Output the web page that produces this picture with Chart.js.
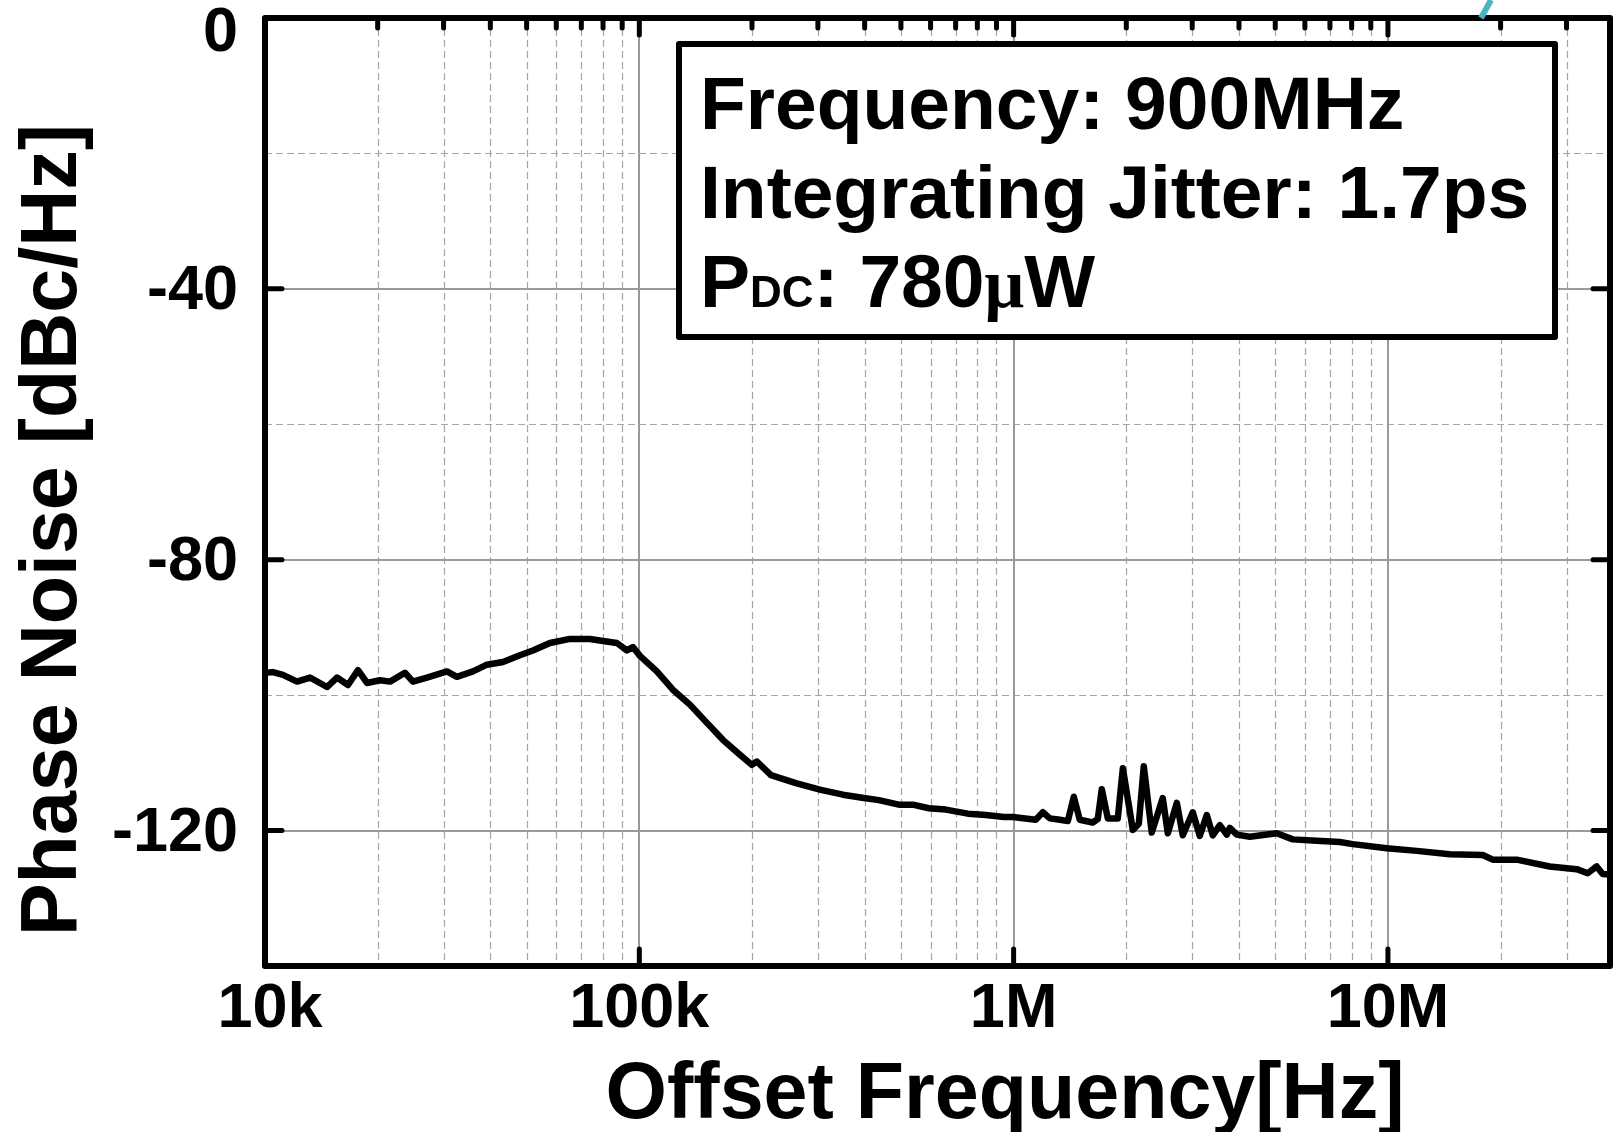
<!DOCTYPE html>
<html>
<head>
<meta charset="utf-8">
<script src="https://cdn.jsdelivr.net/npm/chart.js@4.4.0/dist/chart.umd.min.js"></script>
<style>
  html, body { margin: 0; padding: 0; background: #fff; }
  canvas { display: block; }
</style>
</head>
<body>
<canvas id="pn" width="1615" height="1132"></canvas>
<script>
const freqHz = [10000, 10500, 11170, 12180, 13190, 14640, 15570, 16660, 17720, 18730,
  20280, 21580, 23650, 24850, 27080, 30630, 32560, 35940, 39160, 43220,
  47980, 51960, 57700, 65250, 73820, 79960, 87130, 92660, 96140, 100400,
  111400, 122900, 136500, 151600, 167200, 185700, 199800, 206100, 224700, 262000,
  305500, 349900, 398000, 436500, 496700, 541400, 593600, 659100, 754500, 843000,
  941500, 995200, 1146000, 1197000, 1250000, 1329000, 1396000, 1448000, 1502000, 1627000,
  1678000, 1720000, 1785000, 1898000, 1958000, 2082000, 2160000, 2227000, 2339000, 2503000,
  2582000, 2729000, 2831000, 3010000, 3143000, 3281000, 3405000, 3555000, 3711000, 3781000,
  3947000, 4275000, 5047000, 5568000, 6452000, 7433000, 8054000, 9927000, 11940000, 14630000,
  17920000, 19050000, 22080000, 27050000, 31940000, 34180000, 36120000, 37470000, 39130000];

const phaseNoiseDb = [-96.7, -96.6, -97.0, -98.0, -97.4, -98.8, -97.4, -98.5, -96.3, -98.2,
  -97.8, -98.0, -96.7, -98.0, -97.4, -96.5, -97.3, -96.5, -95.5, -95.1,
  -94.1, -93.4, -92.3, -91.7, -91.7, -92.0, -92.3, -93.4, -92.9, -94.2,
  -96.5, -99.2, -101.4, -104.1, -106.6, -108.8, -110.3, -109.8, -111.8, -113.0,
  -114.0, -114.7, -115.2, -115.5, -116.2, -116.2, -116.7, -116.9, -117.5, -117.7,
  -118.0, -118.0, -118.4, -117.3, -118.2, -118.4, -118.6, -115.0, -118.4, -118.8,
  -118.3, -113.9, -118.2, -118.2, -110.8, -119.9, -119.0, -110.5, -120.3, -115.2,
  -120.4, -115.9, -120.7, -117.3, -120.8, -117.7, -120.7, -119.2, -120.6, -119.6,
  -120.6, -120.9, -120.4, -121.3, -121.5, -121.7, -122.0, -122.6, -123.0, -123.5,
  -123.6, -124.3, -124.3, -125.3, -125.7, -126.3, -125.3, -126.4, -126.5];

const xMajorTicks = [1e4, 1e5, 1e6, 1e7];
const xTickLabels = ['10k', '100k', '1M', '10M'];
const yMajorTicks = [0, -40, -80, -120];
const yTickLabels = ['0', '-40', '-80', '-120'];
const yMinorGrid = [-20, -60, -100];

const xMin = 1e4, xMax = 3.92e7;
const FONT = '"Liberation Sans", Arial, Helvetica, sans-serif';

// minor x positions 2..9 x 10^n inside the range
function xMinorValues() {
  const out = [];
  for (let d = 1e4; d < xMax; d *= 10) {
    for (let k = 2; k <= 9; k++) {
      if (k * d <= xMax) out.push(k * d);
    }
  }
  return out;
}

const frame = {
  id: 'frame',
  beforeDatasetsDraw(chart) {
    const { ctx, chartArea: a, scales: { x, y } } = chart;
    ctx.save();
    // dashed minor grid
    ctx.strokeStyle = '#a6a6a6';
    ctx.lineWidth = 1.2;
    ctx.setLineDash([7, 4]);
    ctx.beginPath();
    xMinorValues().forEach(v => {
      const px = Math.round(x.getPixelForValue(v)) + 0.5;
      ctx.moveTo(px, a.top); ctx.lineTo(px, a.bottom);
    });
    yMinorGrid.forEach(v => {
      const py = Math.round(y.getPixelForValue(v)) + 0.5;
      ctx.moveTo(a.left, py); ctx.lineTo(a.right, py);
    });
    ctx.stroke();
    // solid major grid
    ctx.setLineDash([]);
    ctx.strokeStyle = '#9a9a9a';
    ctx.lineWidth = 2;
    ctx.beginPath();
    xMajorTicks.forEach(v => {
      const px = Math.round(x.getPixelForValue(v));
      ctx.moveTo(px, a.top); ctx.lineTo(px, a.bottom);
    });
    yMajorTicks.forEach(v => {
      const py = Math.round(y.getPixelForValue(v));
      ctx.moveTo(a.left, py); ctx.lineTo(a.right, py);
    });
    ctx.stroke();
    ctx.restore();
  },
  afterDatasetsDraw(chart) {
    const { ctx, chartArea: a, scales: { x, y } } = chart;
    ctx.save();
    ctx.strokeStyle = '#000';
    ctx.lineCap = 'round';
    ctx.lineJoin = 'round';

    // inward ticks
    ctx.lineWidth = 5;
    ctx.beginPath();
    xMajorTicks.forEach(v => {
      const px = x.getPixelForValue(v);
      ctx.moveTo(px, a.top); ctx.lineTo(px, a.top + 17);
      ctx.moveTo(px, a.bottom); ctx.lineTo(px, a.bottom - 17);
    });
    xMinorValues().forEach(v => {
      const px = x.getPixelForValue(v);
      ctx.moveTo(px, a.top); ctx.lineTo(px, a.top + 10);
    });
    yMajorTicks.forEach(v => {
      const py = y.getPixelForValue(v);
      ctx.moveTo(a.left, py); ctx.lineTo(a.left + 17, py);
      ctx.moveTo(a.right, py); ctx.lineTo(a.right - 17, py);
    });
    ctx.stroke();

    // plot frame
    ctx.lineWidth = 6;
    ctx.strokeRect(a.left, a.top, a.right - a.left, a.bottom - a.top);

    // annotation box
    ctx.fillStyle = '#fff';
    ctx.fillRect(679, 44, 876, 293);
    ctx.strokeRect(679, 44, 876, 293);

    ctx.fillStyle = '#000';
    ctx.textAlign = 'left';
    ctx.textBaseline = 'alphabetic';
    ctx.font = 'bold 75px ' + FONT;
    ctx.fillText('Frequency: 900MHz', 700, 129);
    ctx.fillText('Integrating Jitter: 1.7ps', 700, 218);
    let cx = 700;
    const seg = (txt, font) => {
      ctx.font = font;
      ctx.fillText(txt, cx, 307);
      cx += ctx.measureText(txt).width;
    };
    seg('P', 'bold 75px ' + FONT);
    seg('DC', 'bold 44px ' + FONT);
    seg(': 780', 'bold 75px ' + FONT);
    seg('\u03bc', 'bold 70px "Liberation Serif", "DejaVu Serif", serif');
    seg('W', 'bold 75px ' + FONT);

    // tick labels
    ctx.font = 'bold 63px ' + FONT;
    ctx.textAlign = 'center';
    xMajorTicks.forEach((v, i) => {
      const px = x.getPixelForValue(v) + (i === 0 ? 5 : 0);
      ctx.fillText(xTickLabels[i], px, 1027);
    });
    ctx.textAlign = 'right';
    yMajorTicks.forEach((v, i) => {
      const py = y.getPixelForValue(v) + (i === 0 ? 33 : 20);
      ctx.fillText(yTickLabels[i], 238, py);
    });

    // axis titles
    ctx.font = 'bold 79px ' + FONT;
    ctx.textAlign = 'center';
    ctx.fillText('Offset Frequency[Hz]', 1005, 1118);
    ctx.save();
    ctx.translate(76, 530);
    ctx.rotate(-Math.PI / 2);
    ctx.fillText('Phase Noise [dBc/Hz]', 0, 0);
    ctx.restore();

    // stray stroke from neighbouring figure, top right
    ctx.strokeStyle = '#4ab4c6';
    ctx.lineWidth = 6;
    ctx.lineCap = 'butt';
    ctx.beginPath();
    ctx.moveTo(1491, 0); ctx.lineTo(1481, 18);
    ctx.stroke();

    ctx.restore();
  }
};

new Chart(document.getElementById('pn').getContext('2d'), {
  type: 'line',
  data: {
    datasets: [{
      data: freqHz.map((f, i) => ({ x: f, y: phaseNoiseDb[i] })),
      borderColor: '#000',
      borderWidth: 6.5,
      pointRadius: 0,
      tension: 0,
      borderJoinStyle: 'round',
      borderCapStyle: 'round',
      fill: false
    }]
  },
  options: {
    responsive: false,
    animation: false,
    devicePixelRatio: 1,
    layout: { padding: { top: 18, right: 5, left: 0, bottom: 0 } },
    plugins: { legend: { display: false }, tooltip: { enabled: false } },
    scales: {
      x: {
        type: 'logarithmic',
        min: xMin,
        max: xMax,
        grid: { display: false },
        border: { display: false },
        ticks: { display: false },
        afterFit(s) { s.height = 166; }
      },
      y: {
        min: -140,
        max: 0,
        grid: { display: false },
        border: { display: false },
        ticks: { display: false, stepSize: 20 },
        afterFit(s) { s.width = 265; }
      }
    }
  },
  plugins: [frame]
});
</script>
</body>
</html>
